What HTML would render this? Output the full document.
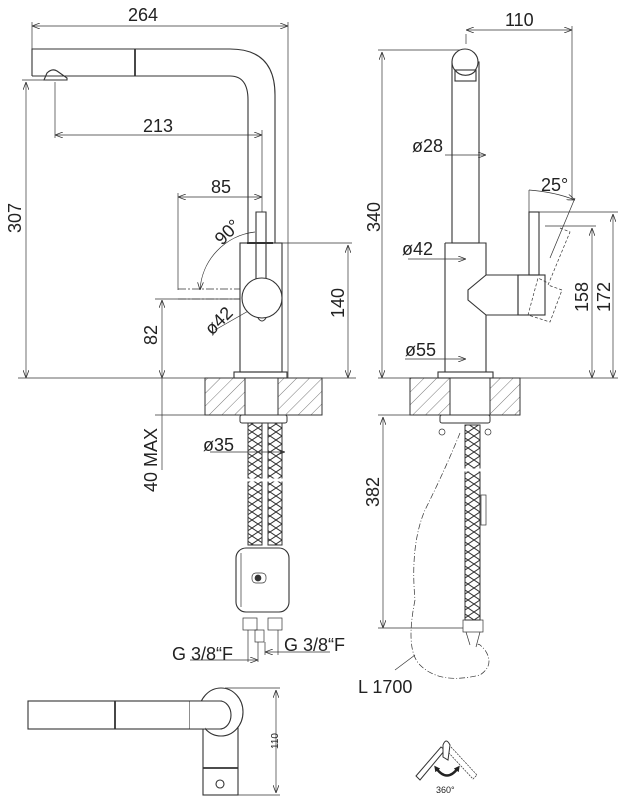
<!DOCTYPE html>
<html><head><meta charset="utf-8"><style>
html,body{margin:0;padding:0;background:#fff}
svg{display:block}
text{font-family:"Liberation Sans","DejaVu Sans",sans-serif;fill:#222}
</style></head><body>
<svg width="620" height="800" viewBox="0 0 620 800" xmlns="http://www.w3.org/2000/svg">
<defs>
<pattern id="h" patternUnits="userSpaceOnUse" width="9" height="9" patternTransform="rotate(45)">
<line x1="0" y1="0" x2="0" y2="9" stroke="#555" stroke-width="0.8"/>
</pattern>
<pattern id="mesh" patternUnits="userSpaceOnUse" width="12" height="8">
<path d="M0 0 L12 8 M12 0 L0 8" stroke="#333" stroke-width="1" fill="none"/>
</pattern>
<marker id="a" markerWidth="8" markerHeight="6" refX="8" refY="3" orient="auto-start-reverse" markerUnits="userSpaceOnUse"><path d="M0 0 L8 3 L0 6" fill="none" stroke="#333" stroke-width="0.8"/></marker>
<marker id="b" markerWidth="6" markerHeight="6" refX="3" refY="3" orient="auto-start-reverse" markerUnits="userSpaceOnUse"><path d="M0 0 L6 3 L0 6 Z" fill="#222"/></marker>
</defs>
<g stroke="#333" stroke-width="0.7" fill="none">
<!-- LEFT VIEW dims -->
<line x1="32" y1="26" x2="288" y2="26" marker-start="url(#a)" marker-end="url(#a)"/>
<line x1="32" y1="22" x2="32" y2="50"/><line x1="288" y1="22" x2="288" y2="378"/>
<line x1="22" y1="80" x2="45" y2="80"/>
<line x1="26" y1="82" x2="26" y2="378" marker-start="url(#a)" marker-end="url(#a)"/>
<line x1="55" y1="82" x2="55" y2="138"/>
<line x1="55" y1="135" x2="262" y2="135" marker-start="url(#a)" marker-end="url(#a)"/>
<line x1="262" y1="130" x2="262" y2="212"/>
<line x1="178" y1="197" x2="262" y2="197" marker-start="url(#a)" marker-end="url(#a)"/>
<line x1="178" y1="193" x2="178" y2="290"/>
<line x1="282" y1="243" x2="352" y2="243"/>
<line x1="348" y1="245" x2="348" y2="378" marker-start="url(#a)" marker-end="url(#a)"/>
<line x1="155" y1="299" x2="240" y2="299"/>
<line x1="162" y1="300" x2="162" y2="378" marker-start="url(#a)" marker-end="url(#a)"/>
<line x1="18" y1="378" x2="356" y2="378"/>
<line x1="162" y1="378" x2="162" y2="470"/>
<line x1="155" y1="415" x2="205" y2="415"/>
<line x1="215" y1="330" x2="250" y2="310"/>
<path d="M200 290 A62 62 0 0 1 255 232" marker-start="url(#a)"/>
<line x1="210" y1="452" x2="285" y2="452" marker-end="url(#a)"/>
<!-- spout -->
<g stroke-width="1.1">
<path d="M32 76 L32 49 L230 49 Q275 49 275 95 L275 243"/>
<path d="M32 76 L230 76 Q248 76 248 100 L248 243"/>
<line x1="135" y1="49" x2="135" y2="76" stroke-width="1.8"/>
<path d="M44 80 L47 73 Q52 68 57 71 L67 78 L67 80 Z"/>
<rect x="240" y="243" width="42" height="129"/>
<line x1="247" y1="243" x2="273" y2="243" stroke-width="2"/>
<rect x="234" y="372" width="53" height="6"/>
<path d="M256 280 L256 212 L266 212 L266 280"/>
<circle cx="262" cy="298" r="20" fill="#fff"/>
<path d="M258 318 Q262 324 266 318"/>
</g>
<g stroke-dasharray="8 2 2 2"><line x1="178" y1="289" x2="240" y2="289"/><line x1="178" y1="299" x2="240" y2="299"/></g>
<!-- counter left -->
<rect x="205" y="378" width="117" height="37" fill="url(#h)" stroke-width="1"/>
<rect x="245" y="378" width="33" height="37" fill="#fff" stroke-width="1"/>
<rect x="240" y="415" width="47" height="8" rx="2" stroke-width="1"/>
<rect x="248" y="423" width="14" height="122" fill="url(#mesh)" stroke-width="1"/>
<rect x="268" y="423" width="14" height="122" fill="url(#mesh)" stroke-width="1"/>
<line x1="243" y1="480" x2="287" y2="480" stroke="#fff" stroke-width="3"/>
<rect x="236" y="548" width="53" height="64" rx="10" fill="#fff" stroke-width="1.1"/>
<line x1="241" y1="553" x2="241" y2="607"/>
<rect x="252" y="573" width="14" height="10" rx="4"/><circle cx="258" cy="578" r="3" fill="#333"/>
<rect x="243" y="618" width="14" height="12"/><rect x="268" y="618" width="14" height="12"/>
<rect x="255" y="630" width="9" height="12"/>
<line x1="248" y1="630" x2="248" y2="662"/><line x1="258" y1="642" x2="258" y2="662"/>
<line x1="265" y1="642" x2="265" y2="655"/><line x1="278" y1="630" x2="278" y2="655"/>
<line x1="190" y1="660" x2="258" y2="660" marker-end="url(#a)"/>
<line x1="265" y1="652" x2="330" y2="652" marker-start="url(#a)"/>
<!-- RIGHT VIEW -->
<line x1="466" y1="30" x2="572" y2="30" marker-start="url(#a)" marker-end="url(#a)"/>
<line x1="466" y1="34" x2="466" y2="44"/><line x1="572" y1="26" x2="572" y2="200"/>
<line x1="378" y1="50" x2="462" y2="50"/>
<line x1="382" y1="52" x2="382" y2="378" marker-start="url(#a)" marker-end="url(#a)"/>
<line x1="445" y1="155" x2="486" y2="155" marker-end="url(#a)"/>
<line x1="408" y1="259" x2="466" y2="259" marker-end="url(#a)"/>
<line x1="405" y1="359" x2="466" y2="359" marker-end="url(#a)"/>
<line x1="378" y1="378" x2="618" y2="378"/>
<line x1="538" y1="212" x2="618" y2="212"/><line x1="545" y1="226" x2="596" y2="226"/>
<line x1="592" y1="228" x2="592" y2="378" marker-start="url(#a)" marker-end="url(#a)"/>
<line x1="613" y1="214" x2="613" y2="378" marker-start="url(#a)" marker-end="url(#a)"/>
<path d="M529 190 Q555 192 575 200" marker-end="url(#a)"/>
<line x1="529" y1="190" x2="529" y2="212"/><line x1="575" y1="198" x2="550" y2="258"/>
<g stroke-width="1.1">
<rect x="452" y="62" width="27" height="181"/>
<circle cx="465" cy="62" r="13" fill="#fff"/>
<rect x="455" y="70" width="21" height="11" fill="#fff"/>
<path d="M455 70 A13 13 0 0 0 476 70"/>
<path d="M445 243 L486 243 L486 275 M445 243 L445 372 L486 372 L486 315"/>
<path d="M486 275 L518 275 L518 315 L486 315 L468 300 L468 290 Z"/>
<rect x="518" y="275" width="27" height="40"/>
<rect x="529" y="212" width="10" height="63"/>
<rect x="438" y="372" width="55" height="6"/>
</g>
<g stroke-dasharray="3 2"><path d="M560 228 L570 232 L548 285 L562 290 L550 322 L528 315 L538 278 L548 283"/></g>
<rect x="410" y="378" width="110" height="37" fill="url(#h)" stroke-width="1"/>
<rect x="450" y="378" width="40" height="37" fill="#fff" stroke-width="1"/>
<rect x="440" y="415" width="50" height="8" rx="2" stroke-width="1"/>
<circle cx="442" cy="432" r="3"/><circle cx="488" cy="432" r="3"/>
<rect x="465" y="425" width="15" height="195" fill="url(#mesh)" stroke-width="1"/>
<line x1="462" y1="470" x2="483" y2="470" stroke="#fff" stroke-width="3"/>
<rect x="481" y="495" width="5" height="30"/>
<rect x="463" y="620" width="20" height="12"/>
<path d="M466 632 L470 645 M480 632 L476 647"/>
<line x1="378" y1="415" x2="440" y2="415"/><line x1="378" y1="628" x2="463" y2="628"/>
<line x1="383" y1="417" x2="383" y2="628" marker-start="url(#a)" marker-end="url(#a)"/>
<path d="M460 433 Q445 470 425 510 Q410 545 415 600 Q405 650 420 665 Q440 685 480 675 Q495 665 485 650 Q478 642 478 645" stroke-dasharray="6 2 1 2"/>
<line x1="395" y1="670" x2="415" y2="655"/>
<!-- TOP VIEW -->
<g stroke-width="1.1">
<rect x="28" y="701" width="207" height="28"/>
<line x1="115" y1="701" x2="115" y2="729" stroke-width="1.8"/>
<line x1="190" y1="701" x2="190" y2="729"/>
<rect x="203" y="728" width="35" height="67"/>
<line x1="203" y1="768" x2="238" y2="768" stroke-width="1.8"/>
<ellipse cx="221" cy="712" rx="22" ry="24" fill="#fff"/>
<path d="M205 701 L220 701 A11 14 0 0 1 220 729 L205 729"/>
<rect x="190" y="701" width="15" height="28" fill="#fff" stroke="none"/>
<line x1="190" y1="701" x2="222" y2="701"/><line x1="190" y1="729" x2="222" y2="729"/>
<circle cx="220" cy="784" r="4"/>
</g>
<line x1="225" y1="688" x2="280" y2="688"/><line x1="238" y1="795" x2="280" y2="795"/>
<line x1="276" y1="690" x2="276" y2="793" marker-start="url(#a)" marker-end="url(#a)"/>
<!-- 360 icon -->
<path d="M416 776 L441 747 L445 750 L420 780 Z" stroke-width="1"/>
<path d="M451 747 L477 775 L473 779 L448 752" stroke-dasharray="2 1"/>
<path d="M443 757 L443 745 Q446 737 450 745 L448 760 Z" stroke-width="1" fill="#fff"/>
<path d="M436 768 Q447 783 458 768" stroke="#222" stroke-width="2.5" marker-start="url(#b)" marker-end="url(#b)"/>
</g>
<g font-size="18">
<text x="128" y="21">264</text>
<text x="143" y="132">213</text>
<text x="211" y="193">85</text>
<text transform="translate(21,233) rotate(-90)">307</text>
<text transform="translate(222,246) rotate(-45)">90°</text>
<text transform="translate(212,336) rotate(-45)">ø42</text>
<text transform="translate(344,318) rotate(-90)">140</text>
<text transform="translate(157,345) rotate(-90)">82</text>
<text transform="translate(157,492) rotate(-90)">40 MAX</text>
<text x="203" y="451">ø35</text>
<text x="172" y="660">G 3/8“F</text>
<text x="284" y="651">G 3/8“F</text>
<text x="505" y="26">110</text>
<text transform="translate(380,232) rotate(-90)">340</text>
<text x="412" y="152">ø28</text>
<text x="402" y="255">ø42</text>
<text x="405" y="356">ø55</text>
<text x="541" y="191">25°</text>
<text transform="translate(588,312) rotate(-90)">158</text>
<text transform="translate(610,312) rotate(-90)">172</text>
<text transform="translate(379,507) rotate(-90)">382</text>
<text x="358" y="693">L 1700</text>
</g>
<text transform="translate(278,749) rotate(-90)" font-size="10">110</text>
<text x="436" y="793" font-size="9">360°</text>
</svg>
</body></html>
